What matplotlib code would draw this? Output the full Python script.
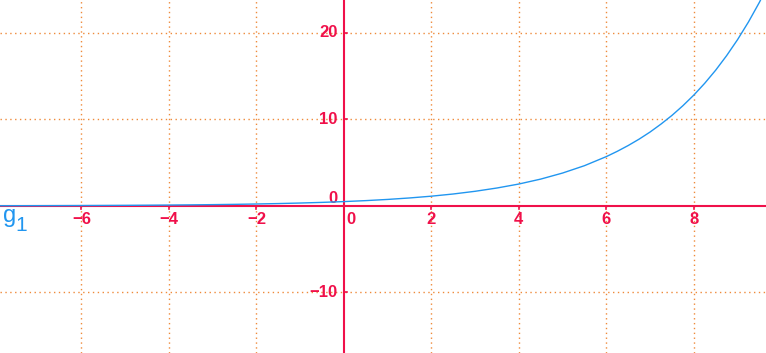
import matplotlib.pyplot as plt
import numpy as np

# curve g1, values
gx = [-8, -7.5, -7, -6.5, -6, -5.5, -5, -4.5, -4, -3.5, -3, -2.5, -2, -1.5, -1, -0.5,
      0, 0.5, 1, 1.5, 2, 2.5, 3, 3.5, 4, 4.5, 5, 5.5, 6, 6.25, 6.5, 6.75, 7, 7.25,
      7.5, 7.75, 8, 8.25, 8.5, 8.75, 9, 9.25, 9.5, 9.75]
gy = [0.02, 0.024, 0.029, 0.036, 0.044, 0.054, 0.066, 0.081, 0.099, 0.121, 0.148, 0.181,
      0.222, 0.272, 0.333, 0.408, 0.5, 0.612, 0.75, 0.919, 1.125, 1.378, 1.69, 2.07,
      2.53, 3.10, 3.80, 4.65, 5.70, 6.31, 6.98, 7.72, 8.54, 9.46, 10.46, 11.58, 12.81,
      14.18, 15.69, 17.37, 19.22, 21.27, 23.54, 26.05]

xticks = [-6, -4, -2, 0, 2, 4, 6, 8]
yticks = [-10, 0, 10, 20]
xgrid = [-6, -4, -2, 2, 4, 6, 8]
ygrid = [-10, 10, 20]

axis_col = '#f0104a'
grid_col = '#ef8a3a'
curve_col = '#2196f0'
font = dict(family='Liberation Sans', fontsize=12, fontweight='bold', color=axis_col)

fig = plt.figure(figsize=(7.66, 3.53), dpi=100)
ax = fig.add_axes([0, 0, 1, 1])
ax.set_xlim(-7.86, 9.65)
ax.set_ylim(-17.0, 23.8)
ax.axis('off')

# dotted grid
for v in xgrid:
    ax.axvline(v, color=grid_col, lw=1.0, ls=(0, (1, 2.5)), zorder=1)
for v in ygrid:
    ax.axhline(v, color=grid_col, lw=1.0, ls=(0, (1, 2.5)), zorder=1)

# axes
ax.axhline(0, color=axis_col, lw=1.5, zorder=2)
ax.axvline(0, color=axis_col, lw=1.5, zorder=2)

# tick marks
for v in xticks:
    if v != 0:
        ax.plot([v, v], [0, -0.4], color=axis_col, lw=1.2, zorder=2)
for v in yticks:
    if v != 0:
        ax.plot([0, 0.07], [v, v], color=axis_col, lw=1.2, zorder=2)

# tick labels
for v in xticks:
    lab = str(v).replace('-', '\u2212')
    if v == 0:
        ax.text(0.05, -1.6, lab, ha='left', va='center', **font)
    else:
        ax.text(v, -1.6, lab, ha='center', va='center', **font)
for v in yticks:
    lab = str(v).replace('-', '\u2212')
    if v == 0:
        ax.text(-0.15, 0.8, lab, ha='right', va='center', **font)
    else:
        ax.text(-0.15, v, lab, ha='right', va='center', **font)

# function curve
ax.plot(gx, gy, color=curve_col, lw=1.0, zorder=3)
ax.text(-7.78, -1.2, 'g', color=curve_col, family='Liberation Sans', fontsize=17,
        ha='left', va='center')
ax.text(-7.5, -2.3, '1', color=curve_col, family='Liberation Sans', fontsize=15,
        ha='left', va='center')

fig.savefig('out.png', dpi=100)
